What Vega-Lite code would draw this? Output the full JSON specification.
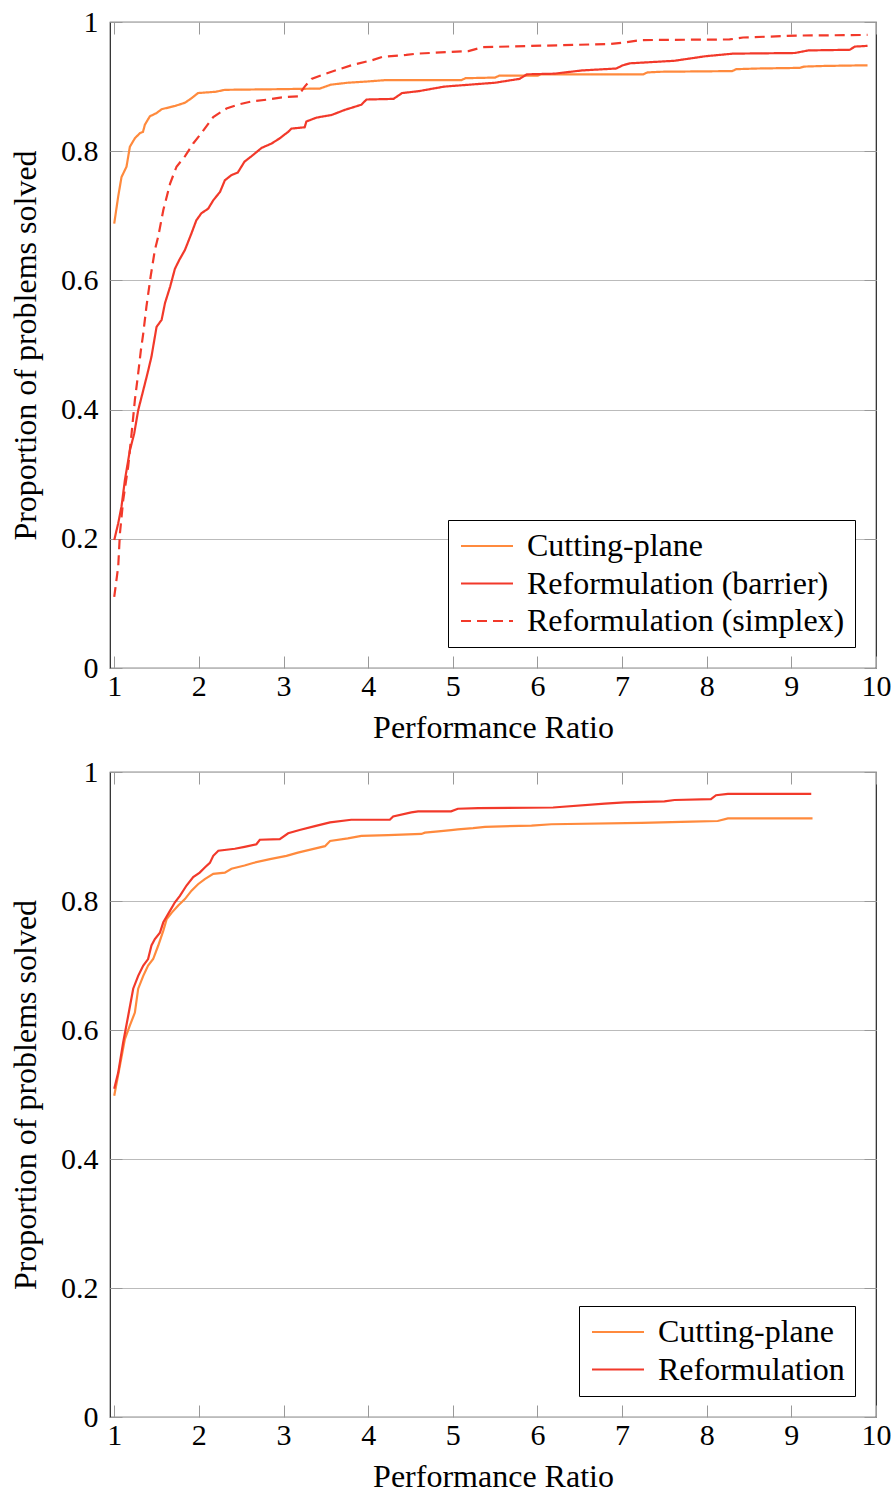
{
  "$schema": "https://vega.github.io/schema/vega-lite/v6.json",
  "padding": {"left": 8, "top": 6, "right": 0, "bottom": 0},
  "background": "white",
  "spacing": 12,
  "resolve": {
    "scale": {"color": "independent", "strokeDash": "independent"},
    "legend": {"color": "independent", "strokeDash": "independent"}
  },
  "config": {
    "font": "Liberation Serif",
    "view": {"stroke": "#222", "strokeWidth": 1.2},
    "axis": {
      "labelFont": "Liberation Serif", "labelFontSize": 30, "labelColor": "#000",
      "titleFont": "Liberation Serif", "titleFontSize": 32, "titleFontWeight": "normal", "titleColor": "#000",
      "domain": false, "tickColor": "#999", "tickSize": -12, "tickWidth": 1,
      "labelFlush": false, "labelOverlap": false, "gridColor": "#bbb", "gridWidth": 1
    },
    "legend": {
      "labelFont": "Liberation Serif", "labelFontSize": 32, "labelColor": "#000",
      "symbolType": "M-1,0H3", "symbolSize": 676, "symbolStrokeWidth": 2.2,
      "strokeColor": "#000", "fillColor": "#fff", "padding": 10, "labelOffset": 37,
      "rowPadding": 5.5, "orient": "bottom-right", "offset": 21, "labelLimit": 0
    }
  },
  "vconcat": [
    {
      "width": 766, "height": 646,
      "data": {"values": [
        {"s": "Cutting-plane", "x": 1.0, "y": 0.688}, {"s": "Cutting-plane", "x": 1.047, "y": 0.730}, {"s": "Cutting-plane", "x": 1.086, "y": 0.760}, {"s": "Cutting-plane", "x": 1.145, "y": 0.776}, {"s": "Cutting-plane", "x": 1.185, "y": 0.807}, {"s": "Cutting-plane", "x": 1.244, "y": 0.820}, {"s": "Cutting-plane", "x": 1.303, "y": 0.828}, {"s": "Cutting-plane", "x": 1.34, "y": 0.830}, {"s": "Cutting-plane", "x": 1.362, "y": 0.841}, {"s": "Cutting-plane", "x": 1.421, "y": 0.854}, {"s": "Cutting-plane", "x": 1.5, "y": 0.859}, {"s": "Cutting-plane", "x": 1.56, "y": 0.865}, {"s": "Cutting-plane", "x": 1.717, "y": 0.870}, {"s": "Cutting-plane", "x": 1.835, "y": 0.875}, {"s": "Cutting-plane", "x": 1.913, "y": 0.882}, {"s": "Cutting-plane", "x": 1.99, "y": 0.890}, {"s": "Cutting-plane", "x": 2.2, "y": 0.892}, {"s": "Cutting-plane", "x": 2.307, "y": 0.895}, {"s": "Cutting-plane", "x": 2.956, "y": 0.896}, {"s": "Cutting-plane", "x": 3.43, "y": 0.897}, {"s": "Cutting-plane", "x": 3.56, "y": 0.903}, {"s": "Cutting-plane", "x": 3.76, "y": 0.906}, {"s": "Cutting-plane", "x": 4.0, "y": 0.908}, {"s": "Cutting-plane", "x": 4.2, "y": 0.910}, {"s": "Cutting-plane", "x": 5.1, "y": 0.910}, {"s": "Cutting-plane", "x": 5.15, "y": 0.913}, {"s": "Cutting-plane", "x": 5.5, "y": 0.914}, {"s": "Cutting-plane", "x": 5.55, "y": 0.917}, {"s": "Cutting-plane", "x": 6.0, "y": 0.917}, {"s": "Cutting-plane", "x": 6.05, "y": 0.919}, {"s": "Cutting-plane", "x": 7.25, "y": 0.919}, {"s": "Cutting-plane", "x": 7.3, "y": 0.922}, {"s": "Cutting-plane", "x": 7.46, "y": 0.923}, {"s": "Cutting-plane", "x": 8.3, "y": 0.924}, {"s": "Cutting-plane", "x": 8.35, "y": 0.927}, {"s": "Cutting-plane", "x": 8.6, "y": 0.928}, {"s": "Cutting-plane", "x": 9.1, "y": 0.929}, {"s": "Cutting-plane", "x": 9.15, "y": 0.931}, {"s": "Cutting-plane", "x": 9.4, "y": 0.932}, {"s": "Cutting-plane", "x": 9.9, "y": 0.933},
        {"s": "Reformulation (barrier)", "x": 1.0, "y": 0.198}, {"s": "Reformulation (barrier)", "x": 1.047, "y": 0.224}, {"s": "Reformulation (barrier)", "x": 1.086, "y": 0.25}, {"s": "Reformulation (barrier)", "x": 1.126, "y": 0.291}, {"s": "Reformulation (barrier)", "x": 1.185, "y": 0.337}, {"s": "Reformulation (barrier)", "x": 1.236, "y": 0.363}, {"s": "Reformulation (barrier)", "x": 1.283, "y": 0.399}, {"s": "Reformulation (barrier)", "x": 1.343, "y": 0.430}, {"s": "Reformulation (barrier)", "x": 1.393, "y": 0.456}, {"s": "Reformulation (barrier)", "x": 1.44, "y": 0.482}, {"s": "Reformulation (barrier)", "x": 1.50, "y": 0.528}, {"s": "Reformulation (barrier)", "x": 1.56, "y": 0.539}, {"s": "Reformulation (barrier)", "x": 1.60, "y": 0.565}, {"s": "Reformulation (barrier)", "x": 1.66, "y": 0.590}, {"s": "Reformulation (barrier)", "x": 1.717, "y": 0.618}, {"s": "Reformulation (barrier)", "x": 1.77, "y": 0.632}, {"s": "Reformulation (barrier)", "x": 1.835, "y": 0.647}, {"s": "Reformulation (barrier)", "x": 1.913, "y": 0.673}, {"s": "Reformulation (barrier)", "x": 1.97, "y": 0.693}, {"s": "Reformulation (barrier)", "x": 2.03, "y": 0.704}, {"s": "Reformulation (barrier)", "x": 2.11, "y": 0.711}, {"s": "Reformulation (barrier)", "x": 2.17, "y": 0.724}, {"s": "Reformulation (barrier)", "x": 2.25, "y": 0.737}, {"s": "Reformulation (barrier)", "x": 2.307, "y": 0.755}, {"s": "Reformulation (barrier)", "x": 2.385, "y": 0.763}, {"s": "Reformulation (barrier)", "x": 2.46, "y": 0.767}, {"s": "Reformulation (barrier)", "x": 2.54, "y": 0.784}, {"s": "Reformulation (barrier)", "x": 2.62, "y": 0.792}, {"s": "Reformulation (barrier)", "x": 2.74, "y": 0.805}, {"s": "Reformulation (barrier)", "x": 2.86, "y": 0.812}, {"s": "Reformulation (barrier)", "x": 2.956, "y": 0.820}, {"s": "Reformulation (barrier)", "x": 3.055, "y": 0.830}, {"s": "Reformulation (barrier)", "x": 3.094, "y": 0.835}, {"s": "Reformulation (barrier)", "x": 3.25, "y": 0.837}, {"s": "Reformulation (barrier)", "x": 3.27, "y": 0.846}, {"s": "Reformulation (barrier)", "x": 3.39, "y": 0.852}, {"s": "Reformulation (barrier)", "x": 3.567, "y": 0.856}, {"s": "Reformulation (barrier)", "x": 3.725, "y": 0.864}, {"s": "Reformulation (barrier)", "x": 3.92, "y": 0.872}, {"s": "Reformulation (barrier)", "x": 3.98, "y": 0.880}, {"s": "Reformulation (barrier)", "x": 4.3, "y": 0.881}, {"s": "Reformulation (barrier)", "x": 4.4, "y": 0.890}, {"s": "Reformulation (barrier)", "x": 4.6, "y": 0.893}, {"s": "Reformulation (barrier)", "x": 4.9, "y": 0.900}, {"s": "Reformulation (barrier)", "x": 5.5, "y": 0.906}, {"s": "Reformulation (barrier)", "x": 5.79, "y": 0.912}, {"s": "Reformulation (barrier)", "x": 5.875, "y": 0.919}, {"s": "Reformulation (barrier)", "x": 6.2, "y": 0.920}, {"s": "Reformulation (barrier)", "x": 6.525, "y": 0.925}, {"s": "Reformulation (barrier)", "x": 6.93, "y": 0.928}, {"s": "Reformulation (barrier)", "x": 7.01, "y": 0.933}, {"s": "Reformulation (barrier)", "x": 7.09, "y": 0.936}, {"s": "Reformulation (barrier)", "x": 7.62, "y": 0.940}, {"s": "Reformulation (barrier)", "x": 7.985, "y": 0.947}, {"s": "Reformulation (barrier)", "x": 8.31, "y": 0.951}, {"s": "Reformulation (barrier)", "x": 9.04, "y": 0.952}, {"s": "Reformulation (barrier)", "x": 9.2, "y": 0.956}, {"s": "Reformulation (barrier)", "x": 9.69, "y": 0.957}, {"s": "Reformulation (barrier)", "x": 9.75, "y": 0.962}, {"s": "Reformulation (barrier)", "x": 9.9, "y": 0.963},
        {"s": "Reformulation (simplex)", "x": 1.0, "y": 0.110}, {"s": "Reformulation (simplex)", "x": 1.047, "y": 0.157}, {"s": "Reformulation (simplex)", "x": 1.067, "y": 0.208}, {"s": "Reformulation (simplex)", "x": 1.106, "y": 0.260}, {"s": "Reformulation (simplex)", "x": 1.165, "y": 0.312}, {"s": "Reformulation (simplex)", "x": 1.205, "y": 0.363}, {"s": "Reformulation (simplex)", "x": 1.244, "y": 0.415}, {"s": "Reformulation (simplex)", "x": 1.283, "y": 0.456}, {"s": "Reformulation (simplex)", "x": 1.315, "y": 0.492}, {"s": "Reformulation (simplex)", "x": 1.343, "y": 0.518}, {"s": "Reformulation (simplex)", "x": 1.38, "y": 0.559}, {"s": "Reformulation (simplex)", "x": 1.43, "y": 0.606}, {"s": "Reformulation (simplex)", "x": 1.48, "y": 0.647}, {"s": "Reformulation (simplex)", "x": 1.52, "y": 0.668}, {"s": "Reformulation (simplex)", "x": 1.58, "y": 0.709}, {"s": "Reformulation (simplex)", "x": 1.66, "y": 0.750}, {"s": "Reformulation (simplex)", "x": 1.736, "y": 0.776}, {"s": "Reformulation (simplex)", "x": 1.835, "y": 0.792}, {"s": "Reformulation (simplex)", "x": 1.933, "y": 0.812}, {"s": "Reformulation (simplex)", "x": 2.03, "y": 0.828}, {"s": "Reformulation (simplex)", "x": 2.17, "y": 0.853}, {"s": "Reformulation (simplex)", "x": 2.326, "y": 0.866}, {"s": "Reformulation (simplex)", "x": 2.46, "y": 0.872}, {"s": "Reformulation (simplex)", "x": 2.62, "y": 0.877}, {"s": "Reformulation (simplex)", "x": 2.82, "y": 0.880}, {"s": "Reformulation (simplex)", "x": 3.016, "y": 0.884}, {"s": "Reformulation (simplex)", "x": 3.17, "y": 0.885}, {"s": "Reformulation (simplex)", "x": 3.25, "y": 0.900}, {"s": "Reformulation (simplex)", "x": 3.33, "y": 0.912}, {"s": "Reformulation (simplex)", "x": 3.567, "y": 0.923}, {"s": "Reformulation (simplex)", "x": 3.80, "y": 0.933}, {"s": "Reformulation (simplex)", "x": 4.05, "y": 0.941}, {"s": "Reformulation (simplex)", "x": 4.17, "y": 0.946}, {"s": "Reformulation (simplex)", "x": 4.45, "y": 0.949}, {"s": "Reformulation (simplex)", "x": 4.576, "y": 0.951}, {"s": "Reformulation (simplex)", "x": 5.185, "y": 0.955}, {"s": "Reformulation (simplex)", "x": 5.35, "y": 0.961}, {"s": "Reformulation (simplex)", "x": 6.85, "y": 0.966}, {"s": "Reformulation (simplex)", "x": 7.01, "y": 0.968}, {"s": "Reformulation (simplex)", "x": 7.215, "y": 0.972}, {"s": "Reformulation (simplex)", "x": 8.27, "y": 0.973}, {"s": "Reformulation (simplex)", "x": 8.43, "y": 0.976}, {"s": "Reformulation (simplex)", "x": 9.08, "y": 0.979}, {"s": "Reformulation (simplex)", "x": 9.9, "y": 0.980}
      ]},
      "layer": [
        {
          "mark": {"type": "line", "strokeWidth": 2.2},
          "encoding": {
            "x": {"field": "x", "type": "quantitative", "scale": {"domain": [0.95, 10], "nice": false, "zero": false},
                  "axis": {"values": [1, 2, 3, 4, 5, 6, 7, 8, 9, 10], "title": "Performance Ratio", "grid": false, "labelPadding": 15, "titlePadding": 11}},
            "y": {"field": "y", "type": "quantitative", "scale": {"domain": [0, 1], "nice": false},
                  "axis": {"values": [0, 0.2, 0.4, 0.6, 0.8, 1], "format": "~g", "title": "Proportion of problems solved", "grid": true, "labelPadding": 24, "titlePadding": 18}},
            "color": {"field": "s", "type": "nominal",
                      "scale": {"domain": ["Cutting-plane", "Reformulation (barrier)", "Reformulation (simplex)"], "range": ["#FF8A3D", "#F2392A", "#F2392A"]},
                      "legend": {"title": null}},
            "strokeDash": {"field": "s", "type": "nominal",
                      "scale": {"domain": ["Cutting-plane", "Reformulation (barrier)", "Reformulation (simplex)"], "range": [[1, 0], [1, 0], [10, 6]]},
                      "legend": {"title": null}}
          }
        },
        {
          "mark": {"type": "point", "opacity": 0},
          "encoding": {
            "x": {"field": "x", "type": "quantitative", "scale": {"domain": [0.95, 10], "nice": false, "zero": false},
                  "axis": {"orient": "top", "values": [1, 2, 3, 4, 5, 6, 7, 8, 9, 10], "labels": false, "title": null, "grid": false}},
            "y": {"field": "y", "type": "quantitative", "scale": {"domain": [0, 1], "nice": false},
                  "axis": {"orient": "right", "values": [0, 0.2, 0.4, 0.6, 0.8, 1], "labels": false, "title": null, "grid": false}}
          }
        }
      ],
      "resolve": {"axis": {"x": "independent", "y": "independent"}}
    },
    {
      "width": 766, "height": 645,
      "data": {"values": [
        {"s": "Cutting-plane", "x": 1.0, "y": 0.498}, {"s": "Cutting-plane", "x": 1.126, "y": 0.586}, {"s": "Cutting-plane", "x": 1.185, "y": 0.607}, {"s": "Cutting-plane", "x": 1.244, "y": 0.627}, {"s": "Cutting-plane", "x": 1.283, "y": 0.664}, {"s": "Cutting-plane", "x": 1.343, "y": 0.684}, {"s": "Cutting-plane", "x": 1.40, "y": 0.700}, {"s": "Cutting-plane", "x": 1.46, "y": 0.710}, {"s": "Cutting-plane", "x": 1.52, "y": 0.731}, {"s": "Cutting-plane", "x": 1.58, "y": 0.754}, {"s": "Cutting-plane", "x": 1.62, "y": 0.772}, {"s": "Cutting-plane", "x": 1.68, "y": 0.782}, {"s": "Cutting-plane", "x": 1.756, "y": 0.793}, {"s": "Cutting-plane", "x": 1.835, "y": 0.803}, {"s": "Cutting-plane", "x": 1.913, "y": 0.816}, {"s": "Cutting-plane", "x": 1.99, "y": 0.826}, {"s": "Cutting-plane", "x": 2.07, "y": 0.834}, {"s": "Cutting-plane", "x": 2.17, "y": 0.842}, {"s": "Cutting-plane", "x": 2.307, "y": 0.844}, {"s": "Cutting-plane", "x": 2.385, "y": 0.850}, {"s": "Cutting-plane", "x": 2.54, "y": 0.855}, {"s": "Cutting-plane", "x": 2.64, "y": 0.859}, {"s": "Cutting-plane", "x": 2.84, "y": 0.865}, {"s": "Cutting-plane", "x": 3.035, "y": 0.870}, {"s": "Cutting-plane", "x": 3.17, "y": 0.875}, {"s": "Cutting-plane", "x": 3.33, "y": 0.880}, {"s": "Cutting-plane", "x": 3.49, "y": 0.885}, {"s": "Cutting-plane", "x": 3.55, "y": 0.893}, {"s": "Cutting-plane", "x": 3.76, "y": 0.897}, {"s": "Cutting-plane", "x": 3.92, "y": 0.901}, {"s": "Cutting-plane", "x": 4.236, "y": 0.902}, {"s": "Cutting-plane", "x": 4.63, "y": 0.904}, {"s": "Cutting-plane", "x": 4.67, "y": 0.906}, {"s": "Cutting-plane", "x": 4.83, "y": 0.908}, {"s": "Cutting-plane", "x": 4.98, "y": 0.910}, {"s": "Cutting-plane", "x": 5.06, "y": 0.911}, {"s": "Cutting-plane", "x": 5.24, "y": 0.913}, {"s": "Cutting-plane", "x": 5.38, "y": 0.915}, {"s": "Cutting-plane", "x": 5.93, "y": 0.917}, {"s": "Cutting-plane", "x": 6.165, "y": 0.919}, {"s": "Cutting-plane", "x": 7.23, "y": 0.921}, {"s": "Cutting-plane", "x": 7.82, "y": 0.923}, {"s": "Cutting-plane", "x": 8.13, "y": 0.924}, {"s": "Cutting-plane", "x": 8.25, "y": 0.928}, {"s": "Cutting-plane", "x": 9.25, "y": 0.928},
        {"s": "Reformulation", "x": 1.0, "y": 0.509}, {"s": "Reformulation", "x": 1.047, "y": 0.534}, {"s": "Reformulation", "x": 1.106, "y": 0.581}, {"s": "Reformulation", "x": 1.165, "y": 0.622}, {"s": "Reformulation", "x": 1.224, "y": 0.664}, {"s": "Reformulation", "x": 1.283, "y": 0.684}, {"s": "Reformulation", "x": 1.343, "y": 0.700}, {"s": "Reformulation", "x": 1.40, "y": 0.710}, {"s": "Reformulation", "x": 1.44, "y": 0.731}, {"s": "Reformulation", "x": 1.48, "y": 0.741}, {"s": "Reformulation", "x": 1.54, "y": 0.751}, {"s": "Reformulation", "x": 1.58, "y": 0.767}, {"s": "Reformulation", "x": 1.66, "y": 0.785}, {"s": "Reformulation", "x": 1.717, "y": 0.798}, {"s": "Reformulation", "x": 1.776, "y": 0.808}, {"s": "Reformulation", "x": 1.854, "y": 0.824}, {"s": "Reformulation", "x": 1.933, "y": 0.837}, {"s": "Reformulation", "x": 2.01, "y": 0.844}, {"s": "Reformulation", "x": 2.07, "y": 0.852}, {"s": "Reformulation", "x": 2.13, "y": 0.859}, {"s": "Reformulation", "x": 2.17, "y": 0.870}, {"s": "Reformulation", "x": 2.23, "y": 0.878}, {"s": "Reformulation", "x": 2.425, "y": 0.881}, {"s": "Reformulation", "x": 2.54, "y": 0.884}, {"s": "Reformulation", "x": 2.68, "y": 0.888}, {"s": "Reformulation", "x": 2.72, "y": 0.895}, {"s": "Reformulation", "x": 2.956, "y": 0.896}, {"s": "Reformulation", "x": 3.055, "y": 0.905}, {"s": "Reformulation", "x": 3.19, "y": 0.910}, {"s": "Reformulation", "x": 3.37, "y": 0.916}, {"s": "Reformulation", "x": 3.55, "y": 0.922}, {"s": "Reformulation", "x": 3.80, "y": 0.926}, {"s": "Reformulation", "x": 4.256, "y": 0.926}, {"s": "Reformulation", "x": 4.295, "y": 0.931}, {"s": "Reformulation", "x": 4.51, "y": 0.9375}, {"s": "Reformulation", "x": 4.59, "y": 0.939}, {"s": "Reformulation", "x": 4.98, "y": 0.939}, {"s": "Reformulation", "x": 5.06, "y": 0.943}, {"s": "Reformulation", "x": 5.30, "y": 0.944}, {"s": "Reformulation", "x": 6.185, "y": 0.945}, {"s": "Reformulation", "x": 6.795, "y": 0.951}, {"s": "Reformulation", "x": 7.03, "y": 0.953}, {"s": "Reformulation", "x": 7.50, "y": 0.9546}, {"s": "Reformulation", "x": 7.62, "y": 0.9566}, {"s": "Reformulation", "x": 8.05, "y": 0.958}, {"s": "Reformulation", "x": 8.11, "y": 0.964}, {"s": "Reformulation", "x": 8.25, "y": 0.966}, {"s": "Reformulation", "x": 9.235, "y": 0.966}
      ]},
      "layer": [
        {
          "mark": {"type": "line", "strokeWidth": 2.2},
          "encoding": {
            "x": {"field": "x", "type": "quantitative", "scale": {"domain": [0.95, 10], "nice": false, "zero": false},
                  "axis": {"values": [1, 2, 3, 4, 5, 6, 7, 8, 9, 10], "title": "Performance Ratio", "grid": false, "labelPadding": 15, "titlePadding": 11}},
            "y": {"field": "y", "type": "quantitative", "scale": {"domain": [0, 1], "nice": false},
                  "axis": {"values": [0, 0.2, 0.4, 0.6, 0.8, 1], "format": "~g", "title": "Proportion of problems solved", "grid": true, "labelPadding": 24, "titlePadding": 18}},
            "color": {"field": "s", "type": "nominal",
                      "scale": {"domain": ["Cutting-plane", "Reformulation"], "range": ["#FF8A3D", "#F2392A"]},
                      "legend": {"title": null}}
          }
        },
        {
          "mark": {"type": "point", "opacity": 0},
          "encoding": {
            "x": {"field": "x", "type": "quantitative", "scale": {"domain": [0.95, 10], "nice": false, "zero": false},
                  "axis": {"orient": "top", "values": [1, 2, 3, 4, 5, 6, 7, 8, 9, 10], "labels": false, "title": null, "grid": false}},
            "y": {"field": "y", "type": "quantitative", "scale": {"domain": [0, 1], "nice": false},
                  "axis": {"orient": "right", "values": [0, 0.2, 0.4, 0.6, 0.8, 1], "labels": false, "title": null, "grid": false}}
          }
        }
      ],
      "resolve": {"axis": {"x": "independent", "y": "independent"}}
    }
  ]
}
